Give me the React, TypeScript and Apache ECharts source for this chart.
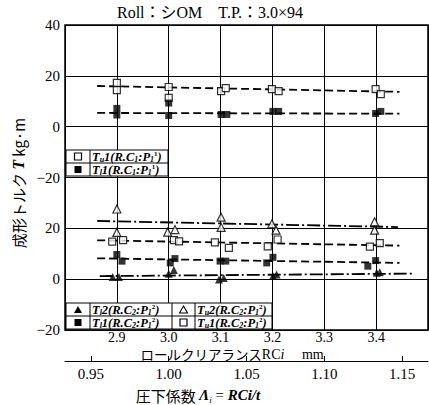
import React, { useEffect, useRef } from 'react';
import * as echarts from 'echarts';

const titleText = 'Roll：シOM　T.P.：3.0×94';
const rcMin = 2.8;
const rcMax = 3.5;
const rcLabels = [2.9, 3.0, 3.1, 3.2, 3.3, 3.4];
const lambdaTicks = [0.95, 1.0, 1.05, 1.1, 1.15];
const plateT = 3.0;
const yTickLabels = ['−20', '0', '20', '−20', '0', '20', '40'];
const upperOffset = 60;

// Upper panel: R.C1 : P1^1
const upperOpenSq = [
  [2.9, 17.2], [2.9, 14.4], [3.0, 15.6], [3.0, 11.3], [3.101, 14.0], [3.11, 15.2],
  [3.199, 14.8], [3.212, 14.0], [3.399, 14.8], [3.409, 12.8],
];
const upperFilledSq = [
  [2.9, 7.2], [2.9, 4.6], [3.0, 9.3], [3.0, 4.4], [3.101, 4.8], [3.112, 4.8],
  [3.201, 6.0], [3.212, 6.0], [3.399, 5.2], [3.409, 6.0],
];
const upperOpenTrend = [[2.862, 16.0], [3.445, 13.7]];
const upperFilledTrend = [[2.862, 5.4], [3.445, 5.1]];

// Lower panel: R.C2 : P1^2
const lowerOpenTri = [
  [2.9, 27.6], [2.9, 18.4], [2.998, 18.5], [3.012, 19.5], [3.101, 24.4], [3.101, 20.4],
  [3.199, 21.8], [3.207, 19.3], [3.397, 22.6], [3.397, 19.3],
];
const lowerOpenTriTrend = [[2.862, 22.9], [3.442, 20.5]];
const lowerOpenSq = [
  [2.891, 14.8], [2.912, 15.4], [3.01, 15.4], [3.02, 14.9], [3.089, 14.5], [3.116, 12.3],
  [3.191, 12.9], [3.21, 15.6], [3.388, 12.8], [3.407, 14.2],
];
const lowerOpenSqTrend = [[2.862, 15.3], [3.445, 13.2]];
const lowerFilledSq = [
  [2.9, 9.7], [2.91, 7.1], [3.012, 8.1], [3.003, 6.4], [3.099, 7.1], [3.11, 7.1],
  [3.189, 6.4], [3.201, 8.6], [3.384, 5.1], [3.399, 7.3],
];
const lowerFilledSqTrend = [[2.862, 8.2], [3.445, 6.4]];
const lowerFilledTri = [
  [2.892, 0.9], [2.904, 0.9], [3.0, 2.1], [3.01, 3.6], [3.097, -0.1], [3.106, 0.5],
  [3.201, 1.2], [3.208, 1.8], [3.401, 2.5], [3.407, 2.7],
];
const lowerFilledTriTrend = [[2.867, 1.2], [3.474, 2.2]];

const SERIF = '"Liberation Serif", "DejaVu Serif", "Noto Sans CJK JP", serif';
const CJK = '"Noto Sans CJK JP", "Liberation Serif", sans-serif';

const shiftUp = (arr: number[][]) => arr.map(([x, y]) => [x, y + upperOffset]);

const dashed = [8, 4];
const dashDot = [13, 3, 2, 3];

const openSqStyle = { color: '#fff', borderColor: '#000', borderWidth: 1.2 };
const filledStyle = { color: '#000', borderColor: '#000', borderWidth: 0 };

function scatter(data: number[][], symbol: string, size: number, itemStyle: any) {
  return { type: 'scatter', data, symbol, symbolSize: size, itemStyle, z: 5 };
}
function trend(data: number[][], type: any) {
  return { type: 'line', data, symbol: 'none', lineStyle: { color: '#000', width: 1.8, type }, z: 4 };
}

const legendRich = {
  n: { fontFamily: SERIF, fontStyle: 'italic', fontWeight: 'bold', fontSize: 12.5, lineHeight: 13, fill: '#000' },
  s: { fontFamily: SERIF, fontStyle: 'italic', fontWeight: 'bold', fontSize: 8, lineHeight: 8, verticalAlign: 'bottom', fill: '#000' },
  p: { fontFamily: SERIF, fontWeight: 'bold', fontSize: 7, lineHeight: 7, verticalAlign: 'top', fill: '#000' },
};
const legendLabel = (sub: string, idx: string, rc: string, sup: string) =>
  `{n|T}{s|${sub}}{n|${idx}(R.C}{s|${rc}}{n|:P}{s|1}{p|${sup}}{n|)}`;

function symbolEl(kind: string, cx: number, cy: number) {
  const h = 3.5;
  if (kind === 'fsq') return { type: 'rect', shape: { x: cx - h, y: cy - h, width: 7, height: 7 }, style: { fill: '#000' }, z: 101 };
  if (kind === 'osq') return { type: 'rect', shape: { x: cx - h, y: cy - h, width: 7, height: 7 }, style: { fill: '#fff', stroke: '#000', lineWidth: 1.2 }, z: 101 };
  if (kind === 'ftri') return { type: 'polygon', shape: { points: [[cx, cy - 4], [cx + 4, cy + 3], [cx - 4, cy + 3]] }, style: { fill: '#000' }, z: 101 };
  return { type: 'polygon', shape: { points: [[cx, cy - 4], [cx + 4, cy + 3], [cx - 4, cy + 3]] }, style: { fill: '#fff', stroke: '#000', lineWidth: 1.1 }, z: 101 };
}

function legendGraphics() {
  const els: any[] = [];
  const line = (x1: number, y1: number, x2: number, y2: number) => ({
    type: 'line', shape: { x1, y1, x2, y2 }, style: { stroke: '#000', lineWidth: 1 }, z: 101,
  });
  const text = (x: number, y: number, t: string) => ({
    type: 'text', x, y, z: 102,
    style: { text: t, rich: legendRich, align: 'left', verticalAlign: 'middle' },
  });
  els.push({ type: 'rect', shape: { x: 66, y: 150, width: 102, height: 26 }, style: { fill: '#fff', stroke: '#000', lineWidth: 1 }, z: 100 });
  els.push(line(66, 163, 168, 163), line(90, 150, 90, 176));
  els.push(symbolEl('osq', 78, 156.5), text(92, 157, legendLabel('u', '1', '1', '1')));
  els.push(symbolEl('fsq', 78, 169.5), text(92, 170, legendLabel('l', '1', '1', '1')));
  els.push({ type: 'rect', shape: { x: 66, y: 303, width: 206, height: 26 }, style: { fill: '#fff', stroke: '#000', lineWidth: 1 }, z: 100 });
  els.push(line(66, 316, 272, 316), line(90, 303, 90, 329), line(172, 303, 172, 329), line(195, 303, 195, 329));
  els.push(symbolEl('ftri', 78, 310), text(92, 310, legendLabel('l', '2', '2', '2')));
  els.push(symbolEl('otri', 183.5, 310), text(197, 310, legendLabel('u', '2', '2', '2')));
  els.push(symbolEl('fsq', 78, 322.5), text(92, 323, legendLabel('l', '1', '2', '2')));
  els.push(symbolEl('osq', 183.5, 322.5), text(197, 323, legendLabel('u', '1', '2', '2')));
  return els;
}

export default function App() {
  const ref = useRef<HTMLDivElement>(null);
  useEffect(() => {
    if (!ref.current) return;
    const chart = echarts.init(ref.current, undefined, { renderer: 'svg' });
    const option: any = {
      animation: false,
      backgroundColor: '#fff',
      grid: { left: 65, top: 25, width: 363, height: 305, show: true, borderColor: '#000', borderWidth: 1.5, backgroundColor: 'transparent' },
      xAxis: [
        {
          type: 'value', position: 'bottom', min: rcMin, max: rcMax, interval: 0.1,
          axisLine: { show: false }, axisTick: { show: false },
          axisLabel: {
            customValues: rcLabels,
            formatter: (v: number) => v.toFixed(1),
            color: '#000', fontFamily: SERIF, fontSize: 14, margin: 1, lineHeight: 12,
          },
          splitLine: { show: true, lineStyle: { color: '#000', width: 1 } },
        },
        {
          type: 'value', position: 'bottom', offset: 31, gridIndex: 0,
          min: rcMin / plateT, max: rcMax / plateT,
          axisLine: { show: true, lineStyle: { color: '#000', width: 1 } },
          axisTick: { show: true, customValues: lambdaTicks, length: 5, inside: true, lineStyle: { color: '#000' } },
          axisLabel: {
            customValues: lambdaTicks,
            formatter: (v: number) => v.toFixed(2),
            color: '#000', fontFamily: SERIF, fontSize: 15, margin: 5,
          },
          splitLine: { show: false },
        },
      ],
      yAxis: {
        type: 'value', min: -20, max: 100, interval: 20,
        axisLine: { show: false }, axisTick: { show: false },
        axisLabel: {
          formatter: (v: number) => yTickLabels[Math.round((v + 20) / 20)],
          color: '#000', fontFamily: SERIF, fontSize: 15, margin: 5,
        },
        splitLine: { show: true, lineStyle: { color: '#000', width: 1 } },
      },
      series: [
        trend(shiftUp(upperOpenTrend), dashed),
        trend(shiftUp(upperFilledTrend), dashed),
        scatter(shiftUp(upperOpenSq), 'rect', 7, openSqStyle),
        scatter(shiftUp(upperFilledSq), 'rect', 7, filledStyle),
        trend(lowerOpenTriTrend, dashDot),
        trend(lowerOpenSqTrend, dashed),
        trend(lowerFilledSqTrend, dashed),
        trend(lowerFilledTriTrend, dashDot),
        scatter(lowerOpenTri, 'triangle', 8, openSqStyle),
        scatter(lowerOpenSq, 'rect', 7, openSqStyle),
        scatter(lowerFilledSq, 'rect', 7, filledStyle),
        scatter(lowerFilledTri, 'triangle', 8, filledStyle),
      ],
      graphic: [
        {
          type: 'text', x: 210, y: 12, z: 110,
          style: { text: titleText, font: `16px ${SERIF}`, fill: '#000', align: 'center', verticalAlign: 'middle' },
        },
        {
          type: 'text', x: 18, y: 183, rotation: Math.PI / 2, z: 110,
          style: {
            text: '{c|成形トルク }{i|T}{c| kg·m}',
            align: 'center', verticalAlign: 'middle',
            rich: {
              c: { fontFamily: CJK, fontSize: 15, fill: '#000', lineHeight: 18 },
              i: { fontFamily: SERIF, fontSize: 16, fontStyle: 'italic', fontWeight: 'bold', fill: '#000', lineHeight: 18 },
            },
          },
        },
        {
          type: 'text', x: 232, y: 354, z: 110,
          style: {
            text: '{c|ロールクリアランス}{r|RC}{i|i}{r|　 mm}',
            align: 'center', verticalAlign: 'middle',
            rich: {
              c: { fontFamily: CJK, fontSize: 13.5, fill: '#000', lineHeight: 13 },
              r: { fontFamily: SERIF, fontSize: 14, fill: '#000', lineHeight: 13 },
              i: { fontFamily: SERIF, fontSize: 14, fontStyle: 'italic', fill: '#000', lineHeight: 13 },
            },
          },
        },
        {
          type: 'text', x: 198, y: 395, z: 110,
          style: {
            text: '{c|圧下係数 }{i|Λ}{s|i}{r| = }{i|RCi/t}',
            align: 'center', verticalAlign: 'middle',
            rich: {
              c: { fontFamily: CJK, fontSize: 15, fill: '#000', lineHeight: 18 },
              r: { fontFamily: SERIF, fontSize: 15, fill: '#000', lineHeight: 18 },
              i: { fontFamily: SERIF, fontSize: 15, fontStyle: 'italic', fontWeight: 'bold', fill: '#000', lineHeight: 18 },
              s: { fontFamily: SERIF, fontSize: 9, fontStyle: 'italic', fill: '#000', lineHeight: 9, verticalAlign: 'bottom' },
            },
          },
        },
        ...legendGraphics(),
      ],
    };
    chart.setOption(option);
    return () => chart.dispose();
  }, []);
  return <div ref={ref} style={{ position: 'fixed', left: 0, top: 0, width: 429, height: 405 }} />;
}
